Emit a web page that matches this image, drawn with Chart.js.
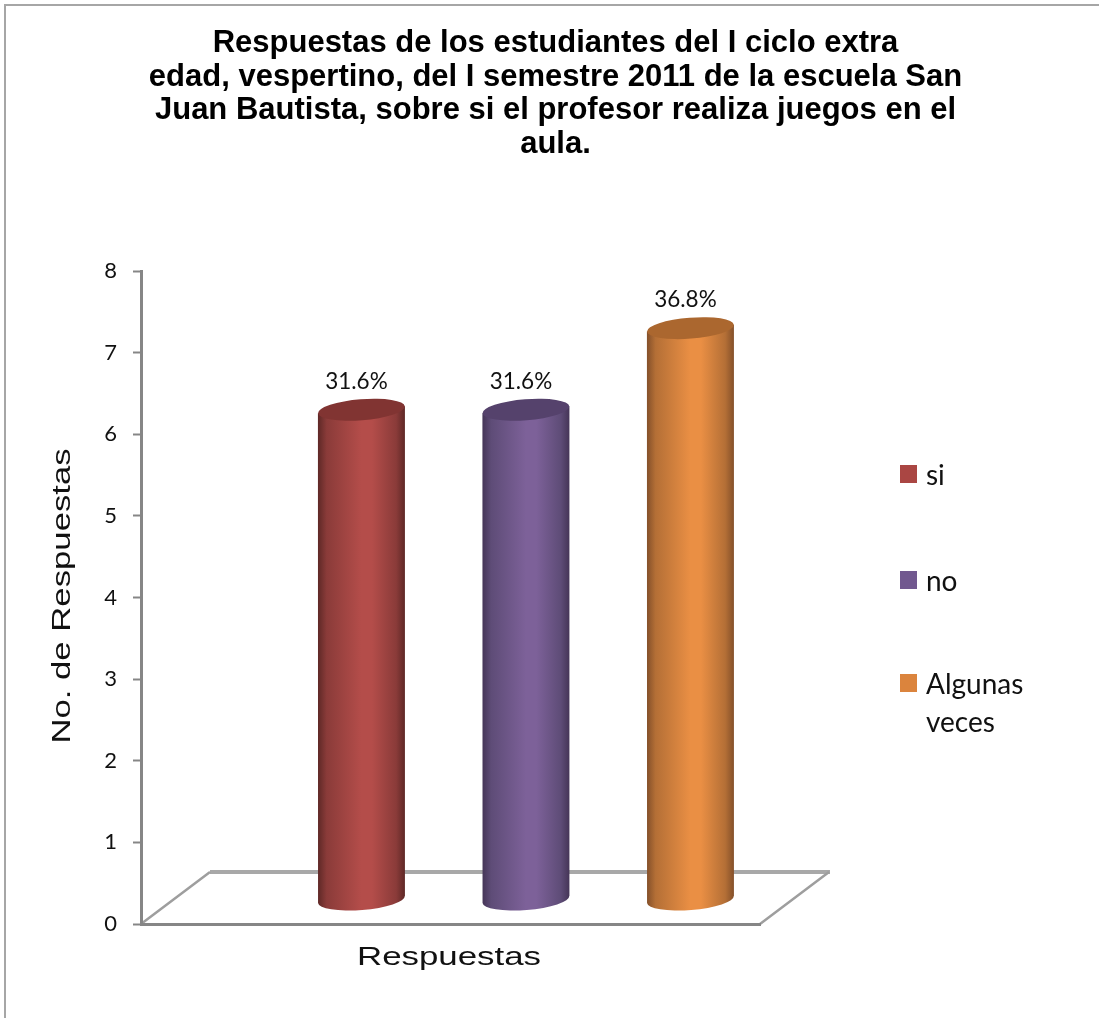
<!DOCTYPE html>
<html><head><meta charset="utf-8">
<script src="https://cdn.jsdelivr.net/npm/chart.js@4"></script>
<style>html,body{margin:0;padding:0;background:#fff}canvas{display:block}</style>
</head><body>
<div style="width:1099px;height:1018px"><canvas id="c" width="1099" height="1018"></canvas></div>
<script>
const titleLines = ["Respuestas de los estudiantes del I ciclo extra","edad, vespertino, del I semestre 2011 de la escuela San","Juan Bautista, sobre si el profesor realiza juegos en el","aula."];
const seriesNames = ["si","no","Algunas veces"];
const legendLines = [["si"],["no"],["Algunas","veces"]];
const positions = [1,2,3];
const siValues = [6];
const noValues = [6];
const algunasValues = [7];
const percentLabels = ["31.6%","31.6%","36.8%"];
const legendColors = ["#AA4643","#71588F","#DB843D"];
const midColors = ["#B44D4A","#7D6199","#EA8F44"];
const blendColors = ["#8A3B39","#5E4C77","#B46F36"];
const edgeColors = ["#5E2826","#453557","#84502A"];
const capColors = ["#813432","#55426C","#AB672F"];
const yTicks = [0,1,2,3,4,5,6,7,8];

const LABEL_FONT = "Lato, sans-serif";
const cyl = {
  id:'cyl',
  beforeDraw(chart){
    const {ctx,width,height} = chart;
    ctx.save();
    ctx.strokeStyle='#A6A6A6';ctx.lineWidth=2;
    ctx.beginPath();ctx.moveTo(width,5);ctx.lineTo(5,5);ctx.lineTo(5,height);ctx.stroke();
    ctx.fillStyle='#000';ctx.textAlign='center';ctx.textBaseline='alphabetic';
    ctx.font='bold 31px "Liberation Sans"';
    titleLines.forEach((t,i)=>ctx.fillText(t,555.5,52+i*33.7));
    const a=chart.chartArea, dx=69, dy=-52;
    ctx.strokeStyle='#A8A8A8';ctx.lineWidth=4;
    ctx.beginPath();ctx.moveTo(a.left+dx,a.bottom+dy);ctx.lineTo(a.right+dx+1,a.bottom+dy);ctx.stroke();
    ctx.lineWidth=2.5;ctx.strokeStyle='#9E9E9E';
    ctx.beginPath();ctx.moveTo(a.left,a.bottom);ctx.lineTo(a.left+dx,a.bottom+dy);
    ctx.moveTo(a.right,a.bottom);ctx.lineTo(a.right+dx,a.bottom+dy);ctx.stroke();
    ctx.restore();
  },
  beforeDatasetDraw(chart,args){
    const el=chart.getDatasetMeta(args.index).data[0];
    const ctx=chart.ctx,i=args.index,w=el.width,l=el.x-w/2,r=el.x+w/2,ry=10.5,rx=w/2,rot=-4.5*Math.PI/180;
    const g=ctx.createLinearGradient(l,0,r,0);
    g.addColorStop(0,edgeColors[i]);g.addColorStop(.1,blendColors[i]);g.addColorStop(.5,midColors[i]);g.addColorStop(.62,midColors[i]);g.addColorStop(.9,blendColors[i]);g.addColorStop(1,edgeColors[i]);
    const rise=rx*Math.sin(-rot);
    ctx.save();
    ctx.fillStyle=g;
    ctx.beginPath();
    ctx.moveTo(l,el.y+rise);ctx.lineTo(r,el.y-rise);
    ctx.lineTo(r,el.base-rise);
    ctx.ellipse(el.x,el.base,rx,ry,rot,0,Math.PI);
    ctx.lineTo(l,el.y+rise);ctx.closePath();ctx.fill();
    ctx.fillStyle=capColors[i];
    ctx.beginPath();ctx.ellipse(el.x,el.y,rx,ry,rot,0,2*Math.PI);ctx.fill();
    ctx.fillStyle='#111';ctx.font='22.5px '+LABEL_FONT;ctx.textAlign='center';ctx.textBaseline='middle';
    ctx.fillText(percentLabels[i],el.x-5,el.y-28);
    ctx.restore();
    return false;
  },
  afterDraw(chart){
    const ctx=chart.ctx;
    ctx.save();
    ctx.fillStyle='#111';ctx.textAlign='center';ctx.textBaseline='middle';
    ctx.font='26px "Liberation Sans"';
    ctx.save();ctx.translate(449,958);ctx.scale(1.34,1);ctx.fillText("Respuestas",0,0);ctx.restore();
    ctx.translate(63,596);ctx.rotate(-Math.PI/2);ctx.scale(1.335,1);
    ctx.fillText("No. de Respuestas",0,0);
    ctx.restore();
    ctx.save();
    const ys=[474,580,683];
    ctx.textBaseline='middle';ctx.textAlign='left';ctx.font='28px '+LABEL_FONT;
    legendLines.forEach((ls,i)=>{
      ctx.fillStyle=legendColors[i];ctx.fillRect(900,ys[i]-9,17,18);
      ctx.fillStyle='#111';
      ls.forEach((t,j)=>ctx.fillText(t,926,ys[i]+2+j*38));
    });
    ctx.restore();
  }
};
const mk=(i,vals)=>({label:seriesNames[i],data:vals.map(v=>({x:positions[i],y:v})),backgroundColor:legendColors[i],yAxisID:'y1',xAxisID:'x',barThickness:87,stack:'s'});
new Chart(document.getElementById('c'),{
  type:'bar',
  data:{datasets:[mk(0,siValues),mk(1,noValues),mk(2,algunasValues)]},
  plugins:[cyl],
  options:{
    responsive:false,animation:false,
    layout:{padding:{top:271,right:339,left:0,bottom:0}},
    plugins:{legend:{display:false},title:{display:false},tooltip:{enabled:false}},
    scales:{
      x:{type:'linear',offset:false,min:-0.34,max:3.423,stacked:true,grid:{display:false,drawTicks:false},border:{display:true,color:'#868686',width:3},ticks:{display:false},afterFit(s){s.height=94}},
      y:{min:0,max:8,afterBuildTicks(s){s.ticks=yTicks.map(v=>({value:v}))},grid:{display:true,drawTicks:true,tickLength:8,tickColor:'#868686',tickWidth:2,drawOnChartArea:false},border:{display:true,color:'#868686',width:3},ticks:{color:'#111',font:{family:LABEL_FONT,size:22},padding:16},afterFit(s){s.width=141}},
      y1:{display:false,stacked:true,min:-0.3,max:7.7}
    }
  }
});
</script>
</body></html>
